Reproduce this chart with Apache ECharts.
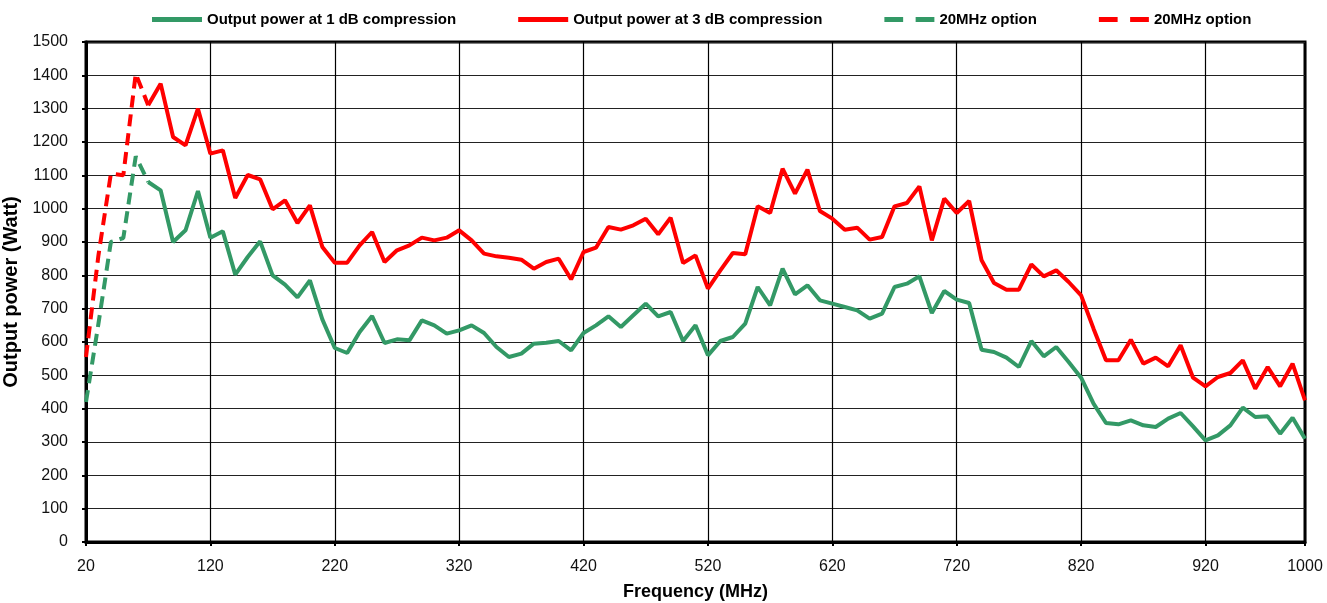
<!DOCTYPE html>
<html><head><meta charset="utf-8">
<script src="https://cdn.jsdelivr.net/npm/echarts@6/dist/echarts.min.js"></script>
<style>html,body{margin:0;padding:0;background:#fff}#c{width:1327px;height:603px}</style>
</head><body><div id="c"></div>
<script>
// Frequencies (MHz) of the main measurements
const freqSolid = [70,80,90,100,110,120,130,140,150,160,170,180,190,200,210,220,230,240,250,260,270,280,290,300,310,320,330,340,350,360,370,380,390,400,410,420,430,440,450,460,470,480,490,500,510,520,530,540,550,560,570,580,590,600,610,620,630,640,650,660,670,680,690,700,710,720,730,740,750,760,770,780,790,800,810,820,830,840,850,860,870,880,890,900,910,920,930,940,950,960,970,980,990,1000];
// Output power at 1 dB compression (W)
const power1dB = [1080,1055,900,935,1053,913,932,802,855,902,800,772,734,785,668,582,567,630,678,597,608,605,665,650,625,635,650,627,585,555,565,595,598,603,575,627,650,677,645,680,715,677,690,603,650,560,603,615,655,765,710,820,743,770,725,715,705,695,670,685,765,775,797,687,753,727,717,577,570,553,525,603,557,585,540,493,415,357,353,365,350,345,370,387,347,305,320,350,403,375,377,325,373,310];
// Output power at 3 dB compression (W)
const power3dB = [1310,1375,1215,1190,1300,1165,1175,1032,1101,1088,998,1025,957,1010,885,838,838,890,930,840,875,890,913,905,913,935,905,865,857,853,847,820,840,850,788,870,883,945,937,950,970,923,973,837,860,760,815,867,863,1007,987,1120,1045,1117,993,970,937,943,907,915,1007,1017,1067,905,1030,987,1023,845,777,757,757,833,797,815,780,740,640,545,545,607,535,553,527,590,493,467,495,507,545,460,525,467,535,425];
// 20MHz option (dashed)
const freqDash = [20,30,40,50,60,70];
const dash1dB = [420,655,900,912,1157,1080];
const dash3dB = [555,860,1105,1100,1405,1310];
// Tick labels
const xTicks = [20,120,220,320,420,520,620,720,820,920,1000];

const pairs = (xs, ys) => xs.map((x, i) => [x, ys[i]]);
const GREEN = '#339966', RED = '#ff0000';
const font = '"Liberation Sans", Arial, sans-serif';
const ICON_SOLID = 'path://M0,0h50v4h-50z';
const ICON_DASH = 'path://M0,0h18v4h-18zM30,0h18v4h-18z';

const chart = echarts.init(document.getElementById('c'), null, {renderer: 'canvas'});
chart.setOption({
  animation: false,
  backgroundColor: '#fff',
  grid: {left: 86, right: 22, top: 42, bottom: 61, outerBoundsMode: 'none', containLabel: false,
         show: true, borderColor: '#000', borderWidth: 3, backgroundColor: 'transparent'},
  legend: {
    top: 7, left: 147, itemWidth: 50, itemHeight: 5, itemGap: 62, symbolKeepAspect: false,
    textStyle: {fontFamily: font, fontWeight: 'bold', fontSize: 15, color: '#000'},
    formatter: n => n.indexOf('20MHz') === 0 ? '20MHz option' : n,
    data: [
      {name: 'Output power at 1 dB compression', icon: ICON_SOLID},
      {name: 'Output power at 3 dB compression', icon: ICON_SOLID},
      {name: '20MHz option (1dB)', icon: ICON_DASH},
      {name: '20MHz option (3dB)', icon: ICON_DASH}
    ]
  },
  xAxis: {
    type: 'value', min: 20, max: 1000,
    name: 'Frequency (MHz)', nameLocation: 'middle', nameGap: 41,
    nameTextStyle: {fontFamily: font, fontWeight: 'bold', fontSize: 18, color: '#000'},
    axisLine: {show: true, lineStyle: {color: '#000', width: 3}},
    axisTick: {show: true, customValues: xTicks, length: 4, lineStyle: {color: '#000', width: 2}},
    axisLabel: {customValues: xTicks, margin: 17, fontFamily: font, fontSize: 16, color: '#111', formatter: v => String(v)},
    splitLine: {show: true, lineStyle: {color: '#000', width: 1.2}}
  },
  yAxis: {
    type: 'value', min: 0, max: 1500, interval: 100,
    name: 'Output power (Watt)', nameLocation: 'middle', nameGap: 54,
    nameTextStyle: {fontFamily: font, fontWeight: 'bold', fontSize: 20, color: '#000'},
    axisLine: {show: true, lineStyle: {color: '#000', width: 3}},
    axisTick: {show: true, length: 4, lineStyle: {color: '#000', width: 2}},
    axisLabel: {margin: 18, fontFamily: font, fontSize: 16, color: '#111', formatter: v => String(v)},
    splitLine: {show: true, lineStyle: {color: '#222', width: 1.2}}
  },
  series: [
    {name: 'Output power at 1 dB compression', type: 'line', symbol: 'none', data: pairs(freqSolid, power1dB),
     lineStyle: {color: GREEN, width: 4}, itemStyle: {color: GREEN}, z: 3},
    {name: 'Output power at 3 dB compression', type: 'line', symbol: 'none', data: pairs(freqSolid, power3dB),
     lineStyle: {color: RED, width: 4}, itemStyle: {color: RED}, z: 3},
    {name: '20MHz option (1dB)', type: 'line', symbol: 'none', data: pairs(freqDash, dash1dB),
     lineStyle: {color: GREEN, width: 4, type: [12, 7]}, itemStyle: {color: GREEN}, z: 3},
    {name: '20MHz option (3dB)', type: 'line', symbol: 'none', data: pairs(freqDash, dash3dB),
     lineStyle: {color: RED, width: 4, type: [12, 7]}, itemStyle: {color: RED}, z: 3}
  ]
});
</script></body></html>
